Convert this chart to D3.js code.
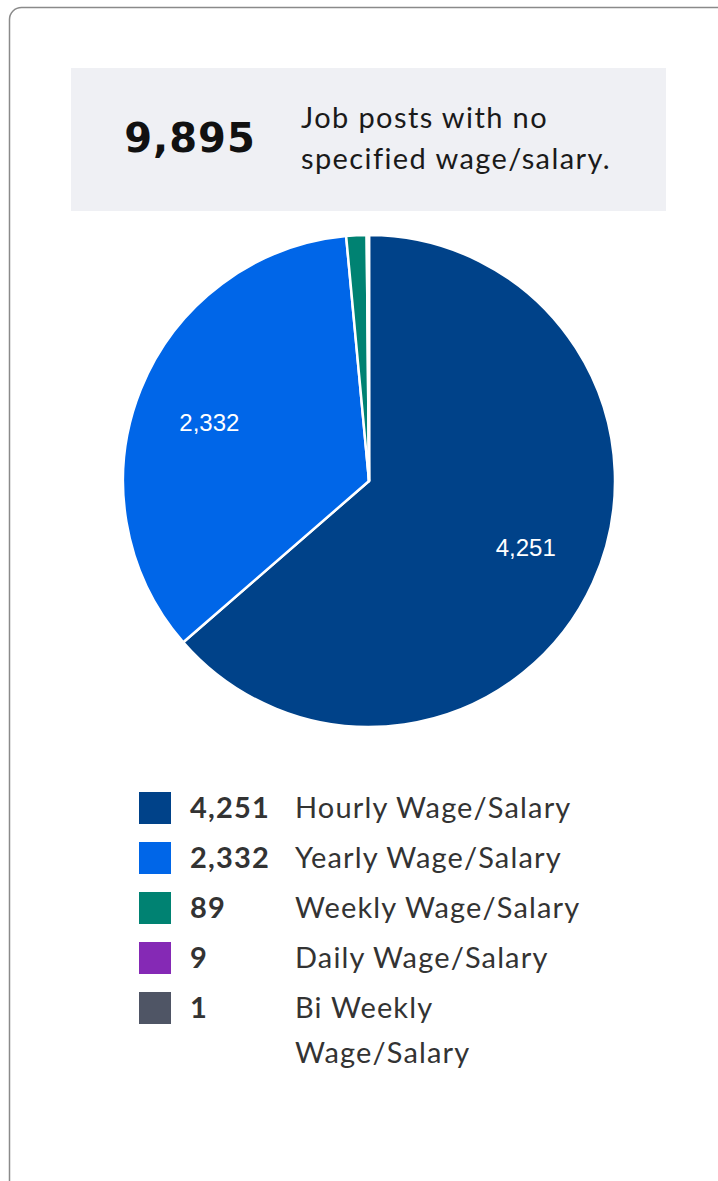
<!DOCTYPE html>
<html>
<head>
<meta charset="utf-8">
<script src="https://cdn.jsdelivr.net/npm/d3@7"></script>
<style>
  html, body { margin: 0; padding: 0; background: #fff; }
  svg { display: block; }
</style>
</head>
<body>
<svg id="chart" width="718" height="1181"></svg>
<script>
const categories = ["Hourly Wage/Salary", "Yearly Wage/Salary", "Weekly Wage/Salary", "Daily Wage/Salary", "Bi Weekly Wage/Salary"];
const legendLines = [["Hourly Wage/Salary"], ["Yearly Wage/Salary"], ["Weekly Wage/Salary"], ["Daily Wage/Salary"], ["Bi Weekly", "Wage/Salary"]];
const values = [4251, 2332, 89, 9, 1];
const colors = ["#004289", "#0066e8", "#008272", "#8529b5", "#4f5565"];
const unspecifiedCount = 9895;
const headerLines = ["Job posts with no", "specified wage/salary."];

const svg = d3.select("#chart");
const fmt = d3.format(",");
const font = "Lato, 'Open Sans', sans-serif";

// card
svg.append("rect")
  .attr("x", 9.5).attr("y", 7.5).attr("width", 720).attr("height", 1190)
  .attr("rx", 12).attr("fill", "#fff").attr("stroke", "#8a8a8a").attr("stroke-width", 1.5);

// header box
svg.append("rect").attr("x", 71).attr("y", 68).attr("width", 595).attr("height", 143).attr("fill", "#eff0f4");
svg.append("text").attr("x", 190).attr("y", 152).attr("text-anchor", "middle")
  .attr("font-family", "'DejaVu Sans', sans-serif").attr("font-weight", 700).attr("font-size", 40)
  .attr("letter-spacing", 1).attr("fill", "#111")
  .text(fmt(unspecifiedCount));
svg.append("g").selectAll("text").data(headerLines).join("text")
  .attr("x", 301).attr("y", (d, i) => 128 + i * 41)
  .attr("font-family", font).attr("font-size", 29).attr("letter-spacing", 1.4).attr("fill", "#1a1a1a")
  .text(d => d);

// pie
const cx = 369, cy = 481, R = 246;
const pie = d3.pie().sort(null).value(d => d)(values);
const arc = d3.arc().innerRadius(0).outerRadius(R);
const labelR = 170, labelAngleShift = -0.03;
const g = svg.append("g").attr("transform", `translate(${cx},${cy})`);
g.selectAll("path").data(pie).join("path")
  .attr("d", arc).attr("fill", (d, i) => colors[i])
  .attr("stroke", "#fff").attr("stroke-width", 2.5).attr("stroke-linejoin", "round");
g.selectAll("text").data(pie.filter(d => (d.endAngle - d.startAngle) > 0.3)).join("text")
  .attr("transform", d => {
    const a = (d.startAngle + d.endAngle) / 2 + labelAngleShift;
    return `translate(${labelR * Math.sin(a)},${-labelR * Math.cos(a)})`;
  })
  .attr("text-anchor", "middle").attr("dy", "0.36em")
  .attr("font-family", "Arial, 'Liberation Sans', sans-serif").attr("font-size", 24).attr("fill", "#fff")
  .text(d => fmt(d.data));

// legend
const lg = svg.append("g");
const rows = lg.selectAll("g").data(values.map((v, i) => ({ v, i }))).join("g")
  .attr("transform", d => `translate(0,${792 + d.i * 50})`);
rows.append("rect").attr("x", 139).attr("y", 0).attr("width", 32).attr("height", 32).attr("fill", d => colors[d.i]);
rows.append("text").attr("x", 190).attr("y", 26)
  .attr("font-family", font).attr("font-weight", 700).attr("font-size", 29).attr("letter-spacing", 1.2).attr("fill", "#333")
  .text(d => fmt(d.v));
rows.append("g").selectAll("text").data(d => legendLines[d.i]).join("text")
  .attr("x", 295).attr("y", (d, j) => 26 + j * 45)
  .attr("font-family", font).attr("font-size", 29).attr("letter-spacing", 1.15).attr("fill", "#333")
  .text(d => d);
</script>
</body>
</html>
